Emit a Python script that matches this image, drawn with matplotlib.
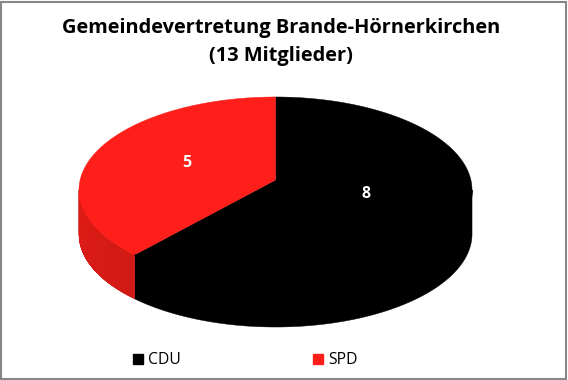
import numpy as np
import matplotlib
matplotlib.use("Agg")
import matplotlib.pyplot as plt
from matplotlib.lines import Line2D
from matplotlib.patches import Polygon, Rectangle

# Data
parties = ["CDU", "SPD"]
seats = [8, 5]
colors = ["#000000", "#FF1F1A"]
title = "Gemeindevertretung Brande-Hörnerkirchen\n(13 Mitglieder)"

W, H = 568, 380
fig = plt.figure(figsize=(W / 100, H / 100), dpi=100)
ax = fig.add_axes([0, 0, 1, 1])
ax.set_xlim(0, W)
ax.set_ylim(H, 0)
ax.axis("off")
FONT = "Open Sans"

# Perspective view of a tilted disc
CX, R, PERSP = 275.5, 195.4, 0.1075
Y0, YA, DEPTH = 180.0, -72.6, 44.0


def project(theta):
    """theta is clockwise from 12 o'clock, in radians."""
    u, v = np.sin(theta), np.cos(theta)
    den = 1 + PERSP * v
    return CX + R * u / den, (YA * v + Y0) / den


total = sum(seats)
fractions = np.array(seats) / total
edges = np.concatenate([[0], np.cumsum(fractions)]) * 2 * np.pi


def wall(t):
    x, y = project(t)
    return np.column_stack([np.r_[x, x[::-1]], np.r_[y, y[::-1] + DEPTH]])


# The silhouette of the projected disc touches its widest points just in front of 3 and 9 o'clock
FRONT_LO = np.pi / 2 + np.arcsin(PERSP)
FRONT_HI = 3 * np.pi / 2 - np.arcsin(PERSP)

# Side walls (front part only)
seams = []
for i, (start, end) in enumerate(zip(edges[:-1], edges[1:])):
    lo, hi = max(start, FRONT_LO), min(end, FRONT_HI)
    if hi <= lo:
        continue
    base = np.array(matplotlib.colors.to_rgb(colors[i]))
    t = np.linspace(lo, hi, 200)
    if i == 0:
        ax.add_patch(Polygon(wall(t), closed=True, facecolor=base, edgecolor=base, linewidth=0.3))
        seams.append((t, base))
    else:
        ax.add_patch(Polygon(wall(t), closed=True, facecolor=base * 0.83,
                             edgecolor=base * 0.83, linewidth=0.3))
        # shading: each strip runs to the far end so no seams show
        for k in np.linspace(0, 1, 24)[:-1]:
            ts = np.linspace(lo + k * (hi - lo), hi, 60)
            s = 0.82 + 0.06 * k
            ax.add_patch(Polygon(wall(ts), closed=True, facecolor=base * s,
                                 edgecolor="none", linewidth=0))

# Top faces
vx, vy = CX, Y0
for i, (start, end) in enumerate(zip(edges[:-1], edges[1:])):
    x, y = project(np.linspace(start, end, 240))
    pts = np.column_stack([np.r_[vx, x], np.r_[vy, y]])
    ax.add_patch(Polygon(pts, closed=True, facecolor=colors[i],
                         edgecolor=colors[i], linewidth=0.3))

# Hide the hairline where the black wall meets the black top face
for t, base in seams:
    sx, sy = project(t)
    ax.plot(sx, sy, color=base, linewidth=1.0, solid_capstyle="butt")

# Value labels
ax.text(366, 194, str(seats[0]), color="white", fontsize=11.5, fontweight="bold",
        family=FONT, ha="center", va="center")
ax.text(187, 163, str(seats[1]), color="white", fontsize=11.5, fontweight="bold",
        family=FONT, ha="center", va="center")

# Title
ax.text(281, 42, title, color="black", fontsize=14.45, fontweight="bold",
        family=FONT, ha="center", va="center", linespacing=1.5)

# Legend
handles = [Line2D([], [], linestyle="none", marker="s", markersize=7.2,
                  markerfacecolor=c, markeredgecolor=c) for c in colors]
ax.legend(handles, parties, loc="center", bbox_to_anchor=(244.5 / W, 1 - 360 / H),
          ncol=2, frameon=False, handlelength=0.8, handletextpad=0.25,
          columnspacing=8.3, prop={"family": FONT, "size": 11.3})

# Chart border
ax.add_patch(Rectangle((0.5, 1.5), W - 2.5, H - 3, fill=False,
                       edgecolor="#868686", linewidth=1.5))

fig.savefig("out.png", dpi=100)
